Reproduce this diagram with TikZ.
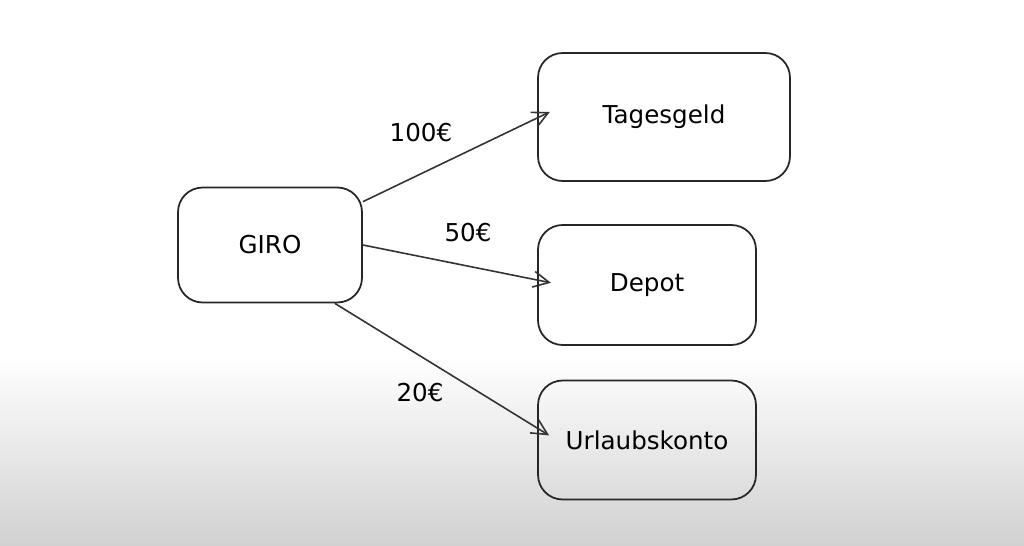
\documentclass[tikz,border=0pt]{standalone}
\usepackage{fontspec}
\setmainfont{DejaVu Sans}
\usetikzlibrary{arrows.meta}

\begin{document}
\begin{tikzpicture}[x=0.02cm,y=0.02cm,->,>={Straight Barb[length=9pt,width=9pt]}]
    \tikzstyle{konto}=[draw=black!85, line width=1pt, rounded corners=14pt, fill=none, font=\fontsize{14}{16}\selectfont]
    \tikzstyle{flow}=[draw=black!80, line width=0.9pt, shorten >=-8pt]
    \tikzstyle{betrag}=[font=\fontsize{14}{16}\selectfont]

    % background with grey fade at the bottom
    \fill[white] (0,0) rectangle (1024,545);
    \shade[top color=white, bottom color=black!18, draw=none] (0,0) rectangle (1024,190);
    \useasboundingbox (0,0) rectangle (1024,545);

    \node[konto, minimum width=3.68cm, minimum height=2.3cm] (giro) at (270,300) {GIRO};
    \node[konto, minimum width=5.04cm, minimum height=2.56cm] (tages) at (664,428) {Tagesgeld};
    \node[konto, minimum width=4.36cm, minimum height=2.4cm] (depot) at (647,260) {Depot};
    \node[konto, minimum width=4.36cm, minimum height=2.38cm] (urlaub) at (647,105) {Urlaubskonto};

    \draw[flow] (giro.25) -- (tages.west |- 0,427);
    \draw[flow] (giro.east) -- (depot.west |- 0,265);
    \draw[flow] (giro.-42) -- (urlaub.west |- 0,117);

    \node[betrag] (b1) at (421,412) {100€};
    \node[betrag] (b2) at (468,312) {50€};
    \node[betrag] (b3) at (420,152) {20€};
\end{tikzpicture}
\end{document}
